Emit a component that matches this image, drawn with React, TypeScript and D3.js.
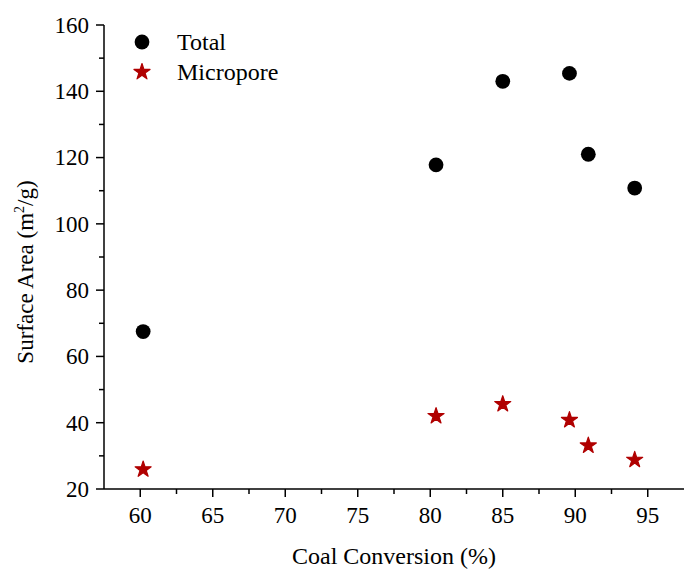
import React from "react";
import * as d3 from "d3";

const conversion = [60.2, 80.4, 85.0, 89.6, 90.9, 94.1];
const totalArea = [67.5, 117.8, 143.0, 145.4, 121.0, 110.8];
const microporeArea = [25.9, 42.0, 45.6, 40.8, 33.1, 28.8];

const xTicks = [60, 65, 70, 75, 80, 85, 90, 95];
const yTicks = [20, 40, 60, 80, 100, 120, 140, 160];
const legendLabels = ["Total", "Micropore"];

const FONT = "'Liberation Serif', 'Times New Roman', serif";
const STAR_RED = "#b00000";

export default function App() {
  const width = 684;
  const height = 569;
  const margin = { top: 25, right: 0, bottom: 80, left: 104 };
  const innerW = width - margin.left - margin.right;
  const innerH = height - margin.top - margin.bottom;

  const x = d3.scaleLinear().domain([57.5, 97.5]).range([0, innerW]);
  const y = d3.scaleLinear().domain([20, 160]).range([innerH, 0]);

  const xMinor = d3.range(62.5, 97.5, 5);
  const yMinor = d3.range(30, 160, 20);

  const star = d3.symbol().type(d3.symbolStar).size(80)();

  return (
    <svg
      width={width}
      height={height}
      style={{ position: "absolute", left: 0, top: 0, background: "#fff" }}
      fontFamily={FONT}
    >
      <g transform={`translate(${margin.left},${margin.top})`}>
        {/* x axis */}
        <g transform={`translate(0,${innerH})`}>
          <line x1={0} x2={innerW} stroke="#000" strokeWidth={1.5} />
          {xTicks.map(t => (
            <g key={t} transform={`translate(${x(t)},0)`}>
              <line y2={8} stroke="#000" strokeWidth={1.5} />
              <text y={34} textAnchor="middle" fontSize={23}>
                {t}
              </text>
            </g>
          ))}
          {xMinor.map(t => (
            <line key={t} x1={x(t)} x2={x(t)} y2={5} stroke="#000" strokeWidth={1.5} />
          ))}
          <text x={innerW / 2} y={75} textAnchor="middle" fontSize={24}>
            Coal Conversion (%)
          </text>
        </g>

        {/* y axis */}
        <g>
          <line y1={0} y2={innerH} stroke="#000" strokeWidth={1.5} />
          {yTicks.map(t => (
            <g key={t} transform={`translate(0,${y(t)})`}>
              <line x2={-8} stroke="#000" strokeWidth={1.5} />
              <text x={-15} dy="0.34em" textAnchor="end" fontSize={23}>
                {t}
              </text>
            </g>
          ))}
          {yMinor.map(t => (
            <line key={t} y1={y(t)} y2={y(t)} x2={-5} stroke="#000" strokeWidth={1.5} />
          ))}
          <text
            transform={`translate(-71,${innerH / 2 + 15}) rotate(-90)`}
            textAnchor="middle"
            fontSize={23}
          >
            Surface Area (m
            <tspan dy={-9} fontSize={14}>2</tspan>
            <tspan dy={9}>/g)</tspan>
          </text>
        </g>

        {/* points */}
        {conversion.map((c, i) => (
          <circle key={"t" + i} cx={x(c)} cy={y(totalArea[i])} r={7.4} fill="#000" />
        ))}
        {conversion.map((c, i) => (
          <path
            key={"m" + i}
            d={star}
            transform={`translate(${x(c)},${y(microporeArea[i])})`}
            fill={STAR_RED}
            stroke={STAR_RED}
            strokeWidth={1.2}
            strokeLinejoin="round"
          />
        ))}

        {/* legend */}
        <g transform="translate(38,17)">
          <circle cx={0} cy={0} r={7.4} fill="#000" />
          <text x={35} dy="0.34em" fontSize={24}>
            {legendLabels[0]}
          </text>
          <path
            d={star}
            transform="translate(0,30)"
            fill={STAR_RED}
            stroke={STAR_RED}
            strokeWidth={1.2}
            strokeLinejoin="round"
          />
          <text x={35} y={30} dy="0.34em" fontSize={24}>
            {legendLabels[1]}
          </text>
        </g>
      </g>
    </svg>
  );
}
